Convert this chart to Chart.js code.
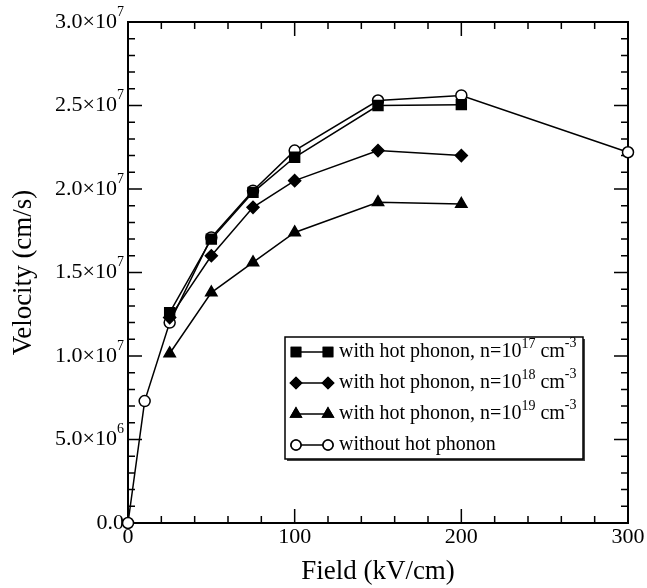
<!DOCTYPE html>
<html>
<head>
<meta charset="utf-8">
<script src="https://cdn.jsdelivr.net/npm/chart.js@4.4.1/dist/chart.umd.min.js"></script>
<style>
  html, body { margin: 0; padding: 0; background: #fff; }
</style>
</head>
<body>
<canvas id="chart" width="647" height="588"></canvas>
<script>
// ---- data ----
const fieldHot = [25, 50, 75, 100, 150, 200];
const velN17 = [12.6e6, 17.0e6, 19.8e6, 21.9e6, 25.0e6, 25.05e6];
const velN18 = [12.3e6, 16.0e6, 18.9e6, 20.5e6, 22.3e6, 22.0e6];
const velN19 = [10.15e6, 13.8e6, 15.6e6, 17.4e6, 19.2e6, 19.1e6];

const fieldCold = [0, 10, 25, 50, 75, 100, 150, 200, 300];
const velCold = [0, 7.3e6, 12.0e6, 17.1e6, 19.9e6, 22.3e6, 25.3e6, 25.6e6, 22.2e6];

const xTicks = [0, 100, 200, 300];
const xTickLabels = ["0", "100", "200", "300"];
const yTicks = [0, 5e6, 1e7, 1.5e7, 2e7, 2.5e7, 3e7];
// [mantissa, exponent]
const yTickLabels = [["0.0", ""], ["5.0\u00d710", "6"], ["1.0\u00d710", "7"], ["1.5\u00d710", "7"],
                     ["2.0\u00d710", "7"], ["2.5\u00d710", "7"], ["3.0\u00d710", "7"]];

const legendItems = [
  { text: "with hot phonon, n=10", sup: "17", unit: " cm", unitSup: "-3", style: "rect" },
  { text: "with hot phonon, n=10", sup: "18", unit: " cm", unitSup: "-3", style: "rectRot" },
  { text: "with hot phonon, n=10", sup: "19", unit: " cm", unitSup: "-3", style: "triangle" },
  { text: "without hot phonon", sup: "", unit: "", unitSup: "", style: "circle" },
];

const SERIF = '"Liberation Serif", "DejaVu Serif", serif';

function pts(xs, ys) {
  return xs.map((x, i) => ({ x, y: ys[i] }));
}

function series(label, data, style, radius, fill) {
  return {
    label,
    data,
    showLine: true,
    clip: false,
    borderColor: "#000",
    borderWidth: 1.5,
    pointStyle: style,
    pointRadius: radius,
    pointBackgroundColor: fill,
    pointBorderColor: "#000",
    pointBorderWidth: 1.5,
  };
}

// draws frame, inward ticks, labels with superscripts and the boxed legend
const figurePlugin = {
  id: "figure",
  beforeDatasetsDraw(chart) {
    const { ctx, chartArea: a, scales: { x, y } } = chart;
    ctx.save();
    ctx.strokeStyle = "#000";
    ctx.lineWidth = 2;
    ctx.strokeRect(a.left, a.top, a.right - a.left, a.bottom - a.top);

    ctx.lineWidth = 1.5;
    ctx.beginPath();
    for (let v = 0; v <= 300; v += 20) {
      const px = x.getPixelForValue(v);
      const len = v % 100 === 0 ? 14 : 7;
      ctx.moveTo(px, a.bottom); ctx.lineTo(px, a.bottom - len);
      ctx.moveTo(px, a.top); ctx.lineTo(px, a.top + len);
    }
    for (let v = 0; v <= 3e7; v += 1e6) {
      const py = y.getPixelForValue(v);
      const len = v % 5e6 === 0 ? 14 : 7;
      ctx.moveTo(a.left, py); ctx.lineTo(a.left + len, py);
      ctx.moveTo(a.right, py); ctx.lineTo(a.right - len, py);
    }
    ctx.stroke();
    ctx.restore();
  },
  afterDraw(chart) {
    const { ctx, chartArea: a, scales: { x, y } } = chart;
    ctx.save();
    ctx.fillStyle = "#000";

    // x tick labels
    ctx.font = "22px " + SERIF;
    ctx.textAlign = "center";
    ctx.textBaseline = "top";
    xTicks.forEach((v, i) => ctx.fillText(xTickLabels[i], x.getPixelForValue(v), a.bottom + 3));

    // y tick labels, right aligned
    ctx.textBaseline = "middle";
    ctx.textAlign = "left";
    yTicks.forEach((v, i) => {
      const [m, e] = yTickLabels[i];
      const py = y.getPixelForValue(v);
      ctx.font = "22px " + SERIF;
      const wm = ctx.measureText(m).width;
      ctx.font = "14px " + SERIF;
      const we = e ? ctx.measureText(e).width : 0;
      const x0 = a.left - 4 - wm - we;
      ctx.font = "22px " + SERIF;
      ctx.fillText(m, x0, py);
      if (e) {
        ctx.font = "14px " + SERIF;
        ctx.fillText(e, x0 + wm, py - 10);
      }
    });

    // axis titles
    ctx.font = "27px " + SERIF;
    ctx.textAlign = "center";
    ctx.textBaseline = "middle";
    ctx.fillText("Field (kV/cm)", (a.left + a.right) / 2, 572);
    ctx.save();
    ctx.translate(24, (a.top + a.bottom) / 2);
    ctx.rotate(-Math.PI / 2);
    ctx.fillText("Velocity (cm/s)", 0, 0);
    ctx.restore();

    // legend box
    const L = 285, T = 337, R = 583, B = 459;
    ctx.fillStyle = "#444";
    ctx.fillRect(L + 2, T + 2, R - L, B - T);
    ctx.fillStyle = "#fff";
    ctx.fillRect(L, T, R - L, B - T);
    ctx.strokeStyle = "#000";
    ctx.lineWidth = 1.5;
    ctx.strokeRect(L, T, R - L, B - T);

    const rows = [352, 383, 414, 445];
    legendItems.forEach((it, i) => {
      const ry = rows[i];
      ctx.strokeStyle = "#000";
      ctx.lineWidth = 1.5;
      ctx.beginPath();
      ctx.moveTo(296, ry); ctx.lineTo(328, ry);
      ctx.stroke();
      const filled = it.style !== "circle";
      const r = it.style === "rect" ? 6.5 : it.style === "triangle" ? 6 : it.style === "rectRot" ? 5.5 : 5;
      [296, 328].forEach((px) => {
        ctx.fillStyle = filled ? "#000" : "#fff";
        Chart.helpers.drawPoint(ctx, { pointStyle: it.style, radius: r, borderWidth: 1.5 }, px, ry);
        ctx.fill();
        ctx.stroke();
      });

      ctx.fillStyle = "#000";
      ctx.textAlign = "left";
      ctx.textBaseline = "middle";
      let tx = 339;
      ctx.font = "20px " + SERIF;
      ctx.fillText(it.text, tx, ry);
      tx += ctx.measureText(it.text).width;
      if (it.sup) {
        ctx.font = "14px " + SERIF;
        ctx.fillText(it.sup, tx, ry - 8);
        tx += ctx.measureText(it.sup).width;
        ctx.font = "20px " + SERIF;
        ctx.fillText(it.unit, tx, ry);
        tx += ctx.measureText(it.unit).width;
        ctx.font = "14px " + SERIF;
        ctx.fillText(it.unitSup, tx, ry - 9);
      }
    });
    ctx.restore();
  },
};

new Chart(document.getElementById("chart"), {
  type: "scatter",
  data: {
    datasets: [
      series("n17", pts(fieldHot, velN17), "rect", 7, "#000"),
      series("n18", pts(fieldHot, velN18), "rectRot", 6, "#000"),
      series("n19", pts(fieldHot, velN19), "triangle", 6.5, "#000"),
      series("cold", pts(fieldCold, velCold), "circle", 5.5, "#fff"),
    ],
  },
  options: {
    responsive: false,
    animation: false,
    devicePixelRatio: 1,
    layout: { padding: { left: 128, right: 19, top: 22, bottom: 65 } },
    scales: {
      x: { type: "linear", min: 0, max: 300, display: false },
      y: { type: "linear", min: 0, max: 3e7, display: false },
    },
    plugins: { legend: { display: false }, tooltip: { enabled: false } },
    elements: { line: { tension: 0 } },
  },
  plugins: [figurePlugin],
});
</script>
</body>
</html>
